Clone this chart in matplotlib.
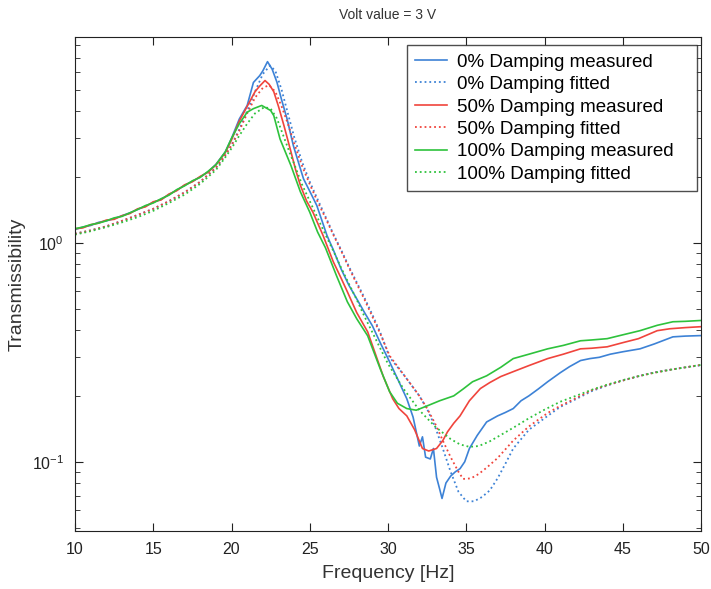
import matplotlib
matplotlib.use("Agg")
from matplotlib import pyplot as plt
from matplotlib.ticker import LogLocator, NullFormatter

plt.rcParams['font.family'] = ['Liberation Sans', 'DejaVu Sans']

# ---- dados ----
# 0% damping, medido
f_blue_meas = [10.0, 10.5, 11.0, 11.5, 12.0, 12.5, 13.0, 13.5, 14.0, 14.5, 15.0, 15.5, 16.0,
               16.5, 17.0, 17.5, 18.0, 18.5, 19.0, 19.6, 20.0, 20.5, 21.0, 21.4, 21.8, 22.0,
               22.3, 22.6, 22.9, 23.2, 23.55, 23.95, 24.3, 24.6, 25.0, 25.45, 26.1, 26.5, 27.0,
               27.5, 28.0, 28.5, 29.0, 29.5, 30.1, 30.6, 31.2, 31.6, 32.0, 32.2, 32.4, 32.7,
               32.9, 33.1, 33.3, 33.45, 33.7, 34.0, 34.3, 34.6, 34.9, 35.2, 35.7, 36.3, 37.0,
               37.5, 38.0, 38.5, 39.0, 39.6, 40.2, 41.0, 41.6, 42.3, 42.9, 43.5, 44.2, 45.0,
               46.1, 47.0, 48.2, 49.0, 50.0]
v_blue_meas = [1.15, 1.18, 1.20, 1.24, 1.26, 1.29, 1.33, 1.37, 1.42, 1.47, 1.53, 1.58, 1.66,
               1.74, 1.83, 1.91, 2.00, 2.11, 2.28, 2.60, 3.00, 3.68, 4.24, 5.40, 5.80, 6.10,
               6.72, 6.20, 5.42, 4.50, 3.68, 2.78, 2.30, 1.96, 1.72, 1.48, 1.08, 0.93, 0.76,
               0.64, 0.555, 0.48, 0.418, 0.35, 0.286, 0.24, 0.194, 0.160, 0.118, 0.130, 0.105, 0.103,
               0.115, 0.085, 0.075, 0.068, 0.080, 0.086, 0.090, 0.093, 0.100, 0.115, 0.132, 0.152, 0.162,
               0.168, 0.175, 0.190, 0.200, 0.215, 0.232, 0.255, 0.272, 0.290, 0.296, 0.300, 0.310, 0.318,
               0.328, 0.345, 0.372, 0.375, 0.377]

# 0% damping, ajustado
f_blue_fit = [10, 11, 12, 13, 14, 15, 16, 17, 18, 19, 19.5, 20, 20.5, 21, 21.5, 22, 22.46, 22.8,
              23.2, 23.6, 24.0, 24.5, 25.0, 25.5, 26.0, 26.5, 27.0, 27.5, 28.0, 28.5, 29.0, 29.5,
              30.1, 31.0, 32.0, 32.5, 33.0, 33.5, 34.0, 34.5, 35.0, 35.5, 36.0, 36.5, 37.0, 37.5,
              38.0, 39.0, 40.2, 41.0, 42.3, 43.0, 44.0, 45.0, 46.1, 47.0, 48.0, 49.0, 50.0]
v_blue_fit = [1.10, 1.14, 1.19, 1.26, 1.34, 1.43, 1.55, 1.70, 1.90, 2.20, 2.45, 2.80, 3.30, 4.00,
              4.90, 5.90, 6.45, 6.10, 5.00, 3.90, 3.05, 2.35, 1.90, 1.58, 1.32, 1.10, 0.93, 0.78,
              0.66, 0.56, 0.47, 0.39, 0.30, 0.25, 0.20, 0.174, 0.145, 0.115, 0.090, 0.073, 0.066,
              0.066, 0.069, 0.074, 0.084, 0.098, 0.115, 0.140, 0.162, 0.178, 0.198, 0.210, 0.223,
              0.235, 0.247, 0.256, 0.263, 0.270, 0.276]

# 50% damping, medido
f_red_meas = [10.0, 10.5, 11.0, 11.5, 12.0, 12.5, 13.0, 13.5, 14.0, 14.5, 15.0, 15.5, 16.0,
              16.5, 17.0, 17.5, 18.0, 18.5, 19.0, 19.6, 20.0, 20.5, 21.0, 21.5, 21.8, 22.14,
              22.4, 22.7, 23.0, 23.35, 23.8, 24.1, 24.4, 24.8, 25.2, 25.85, 26.5, 27.0, 27.4,
              28.0, 28.7, 29.2, 29.7, 30.3, 30.7, 31.2, 31.7, 32.2, 32.6, 33.1, 33.5, 33.8,
              34.2, 34.6, 35.2, 35.9, 36.5, 37.2, 38.0, 39.0, 40.2, 41.2, 42.3, 43.0, 44.0,
              45.0, 46.0, 47.2, 48.0, 49.0, 50.0]
v_red_meas = [1.16, 1.17, 1.21, 1.23, 1.27, 1.28, 1.33, 1.36, 1.43, 1.46, 1.54, 1.57, 1.67,
              1.73, 1.84, 1.90, 2.01, 2.10, 2.27, 2.58, 2.95, 3.60, 4.20, 4.90, 5.20, 5.51,
              5.30, 4.90, 4.20, 3.43, 2.60, 2.15, 1.83, 1.55, 1.38, 1.08, 0.82, 0.69, 0.598,
              0.48, 0.392, 0.31, 0.245, 0.194, 0.175, 0.162, 0.140, 0.115, 0.112, 0.115, 0.125, 0.137,
              0.150, 0.162, 0.190, 0.216, 0.230, 0.245, 0.258, 0.275, 0.296, 0.310, 0.328, 0.330, 0.335,
              0.350, 0.365, 0.397, 0.405, 0.410, 0.414]

# 50% damping, ajustado
f_red_fit = [10, 11, 12, 13, 14, 15, 16, 17, 18, 19, 19.5, 20, 20.5, 21, 21.5, 22, 22.4, 22.8,
             23.2, 23.6, 24.0, 24.5, 25, 25.5, 26, 26.5, 27, 27.5, 28, 28.5, 29, 29.5, 30.1, 31,
             32, 32.5, 33, 33.5, 34, 34.5, 34.8, 35.3, 35.8, 36.3, 37, 38, 39, 40.2, 41, 42.3,
             43, 44, 45, 46, 47, 48, 49, 50]
v_red_fit = [1.10, 1.14, 1.19, 1.26, 1.34, 1.43, 1.55, 1.70, 1.90, 2.20, 2.45, 2.78, 3.25, 3.90,
             4.60, 5.10, 5.25, 4.90, 4.20, 3.50, 2.85, 2.25, 1.85, 1.54, 1.30, 1.09, 0.92, 0.77,
             0.65, 0.55, 0.46, 0.385, 0.305, 0.25, 0.20, 0.175, 0.150, 0.125, 0.105, 0.090, 0.0835,
             0.084, 0.088, 0.094, 0.104, 0.125, 0.145, 0.167, 0.180, 0.200, 0.212, 0.224, 0.235,
             0.246, 0.255, 0.263, 0.270, 0.277]

# 100% damping, medido
f_green_meas = [10.0, 10.5, 11.0, 11.5, 12.0, 12.5, 13.0, 13.5, 14.0, 14.5, 15.0, 15.5, 16.0,
                16.5, 17.0, 17.5, 18.0, 18.5, 19.0, 19.6, 20.0, 20.5, 21.0, 21.4, 21.93, 22.5,
                22.7, 23.1, 23.8, 24.4, 25.0, 25.5, 26.0, 26.7, 27.4, 28.0, 28.7, 29.5, 30.1,
                30.6, 31.2, 31.8, 32.5, 33.3, 34.2, 34.8, 35.4, 36.3, 37.2, 38.0, 39.0, 40.2,
                41.2, 42.3, 43.0, 44.0, 45.0, 46.1, 47.2, 48.2, 49.0, 50.0]
v_green_meas = [1.16, 1.18, 1.21, 1.23, 1.26, 1.30, 1.32, 1.37, 1.42, 1.48, 1.52, 1.59, 1.65,
                1.75, 1.82, 1.92, 1.99, 2.12, 2.27, 2.60, 3.00, 3.50, 3.95, 4.10, 4.24, 4.02,
                3.81, 2.98, 2.25, 1.71, 1.38, 1.12, 0.95, 0.71, 0.538, 0.45, 0.376, 0.266, 0.209,
                0.185, 0.175, 0.172, 0.180, 0.190, 0.200, 0.215, 0.232, 0.247, 0.270, 0.296, 0.310, 0.328,
                0.340, 0.357, 0.360, 0.365, 0.380, 0.397, 0.420, 0.436, 0.438, 0.442]

# 100% damping, ajustado
f_green_fit = [10, 11, 12, 13, 14, 15, 16, 17, 18, 19, 19.5, 20, 20.5, 21, 21.5, 22.1, 22.5, 22.9,
               23.3, 23.7, 24.1, 24.5, 25, 25.5, 26, 26.5, 27, 27.5, 28, 28.5, 29, 29.5, 30, 31,
               32, 33, 34, 34.6, 35.2, 35.8, 36.5, 37, 38, 39, 40, 41, 42, 43, 44, 45, 46, 47, 48,
               49, 50]
v_green_fit = [1.09, 1.13, 1.18, 1.24, 1.31, 1.40, 1.52, 1.66, 1.86, 2.15, 2.40, 2.70, 3.09, 3.50,
               3.90, 4.17, 4.10, 3.70, 3.10, 2.60, 2.20, 1.85, 1.55, 1.30, 1.09, 0.92, 0.77, 0.65,
               0.55, 0.46, 0.39, 0.33, 0.28, 0.215, 0.172, 0.145, 0.127, 0.120, 0.117, 0.118, 0.124,
               0.130, 0.143, 0.158, 0.173, 0.188, 0.200, 0.213, 0.225, 0.236, 0.246, 0.255, 0.263,
               0.270, 0.277]

azul = '#3d82d6'
vermelho = '#f0443c'
verde = '#2ec23c'

fig = plt.figure(figsize=(7.11, 5.89), dpi=100)
ax = fig.add_axes([0.1055, 0.0985, 0.8805, 0.8385])

ax.plot(f_blue_meas, v_blue_meas, color=azul, lw=1.2, label="0% Damping measured")
ax.plot(f_blue_fit, v_blue_fit, color=azul, lw=1.3, ls=':', label="0% Damping fitted")
ax.plot(f_red_meas, v_red_meas, color=vermelho, lw=1.2, label="50% Damping measured")
ax.plot(f_red_fit, v_red_fit, color=vermelho, lw=1.3, ls=':', label="50% Damping fitted")
ax.plot(f_green_meas, v_green_meas, color=verde, lw=1.2, label="100% Damping measured")
ax.plot(f_green_fit, v_green_fit, color=verde, lw=1.3, ls=':', label="100% Damping fitted")

ax.set_yscale('log')
ax.set_xlim(10, 50)
ax.set_ylim(0.0483, 8.7)
ax.set_xticks(range(10, 51, 5))
ax.yaxis.set_major_locator(LogLocator(base=10, numticks=5))
ax.yaxis.set_minor_locator(LogLocator(base=10, subs=range(2, 10), numticks=20))
ax.yaxis.set_minor_formatter(NullFormatter())

ax.tick_params(which='both', direction='in', top=True, right=True, labelsize=11.5, colors='#222222')
ax.tick_params(which='major', length=6, pad=8)
ax.tick_params(which='minor', length=3.5)
for s in ax.spines.values():
    s.set_color('#222222')

ax.set_title("Volt value = 3 V", fontsize=10, color='#333333', pad=13)
ax.set_xlabel("Frequency [Hz]", fontsize=14, color='#333333', labelpad=6)
ax.set_ylabel("Transmissibility", fontsize=14, color='#333333', labelpad=4)

# legenda com a caixa mais larga, como no original
leg = ax.legend(loc='upper left', bbox_to_anchor=(0.530, 0.0, 0.4636, 0.984), mode='expand',
                fontsize=13.5, labelspacing=0.285, handlelength=1.7, handletextpad=0.55,
                borderaxespad=0.0, frameon=True, fancybox=False, borderpad=0.45)
leg.get_frame().set_edgecolor('#222222')
leg.get_frame().set_linewidth(1.0)

fig.savefig("out.png", dpi=100)
